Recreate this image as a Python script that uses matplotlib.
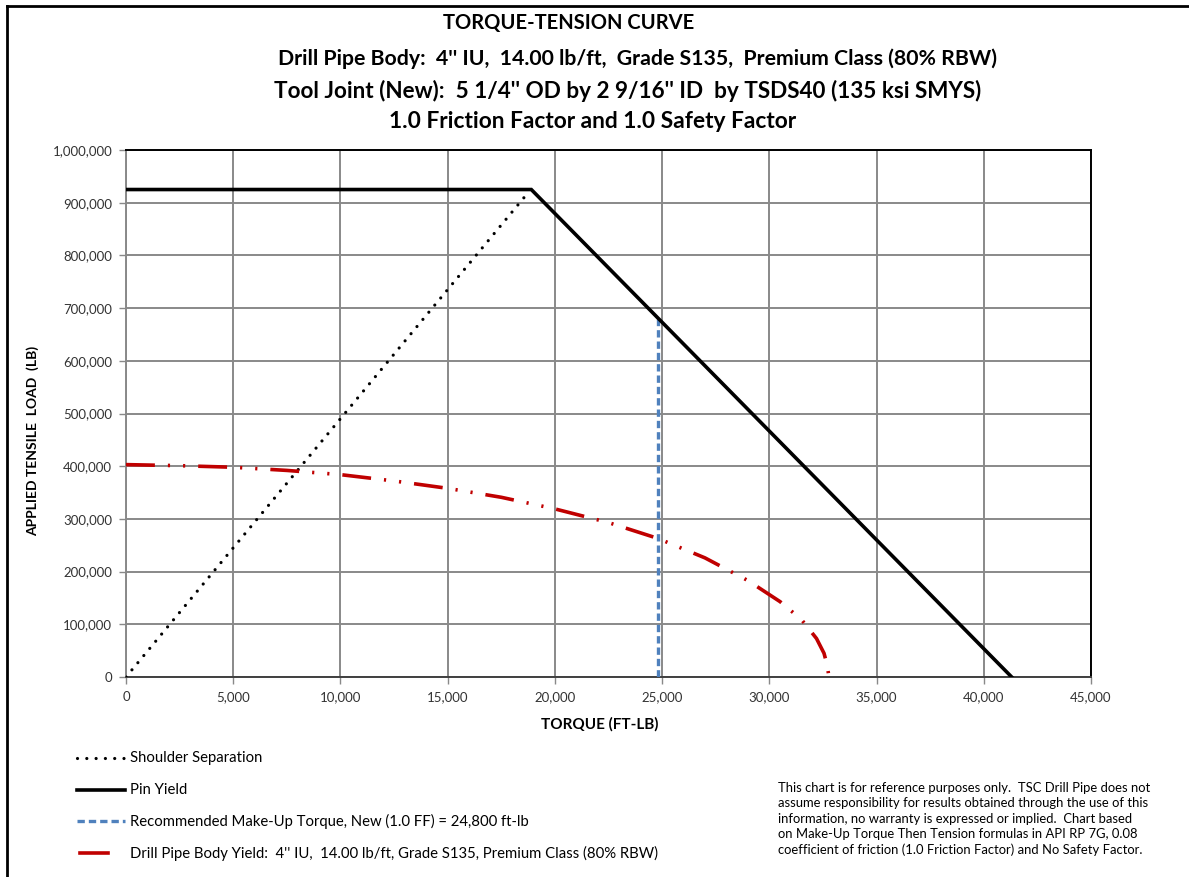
import matplotlib
matplotlib.use("Agg")
import matplotlib.pyplot as plt
from matplotlib.lines import Line2D
from matplotlib.ticker import FuncFormatter

plt.rcParams['font.family'] = ['Lato', 'DejaVu Sans']

# Data (torque in ft-lb, tension in lb)
shoulder_torque = [0, 18730]
shoulder_load = [0, 918000]

pin_torque = [0, 18900, 41300]
pin_load = [925000, 925000, 0]

makeup_torque = [24800, 24800]
makeup_load = [0, 680000]

body_torque = [0, 2500, 5000, 7500, 10000, 12500, 15000, 17500, 20000, 22500,
               24800, 27000, 29000, 30500, 31500, 32200, 32550, 32700, 32780]
body_load = [403000, 401000, 398000, 392000, 384000, 372000, 358000, 341000,
             319000, 293000, 263000, 226000, 183000, 143000, 109000, 73000,
             45000, 22000, 0]

title_lines = ["TORQUE-TENSION CURVE",
               "Drill Pipe Body:  4'' IU,  14.00 lb/ft,  Grade S135,  Premium Class (80% RBW)",
               "Tool Joint (New):  5 1/4'' OD by 2 9/16'' ID  by TSDS40 (135 ksi SMYS)",
               "1.0 Friction Factor and 1.0 Safety Factor"]

legend_labels = ["Shoulder Separation",
                 "Pin Yield",
                 "Recommended Make-Up Torque, New (1.0 FF) = 24,800 ft-lb",
                 "Drill Pipe Body Yield:  4'' IU,  14.00 lb/ft, Grade S135, Premium Class (80% RBW)"]

disclaimer = ("This chart is for reference purposes only.  TSC Drill Pipe does not\n"
              "assume responsibility for results obtained through the use of this\n"
              "information, no warranty is expressed or implied.  Chart based\n"
              "on Make-Up Torque Then Tension formulas in API RP 7G, 0.08\n"
              "coefficient of friction (1.0 Friction Factor) and No Safety Factor.")

W, H = 1189, 877
fig = plt.figure(figsize=(W / 100, H / 100), dpi=100)

def fx(px):
    return px / W

def fy(py):
    return 1 - py / H

ax = fig.add_axes([fx(126), fy(677), fx(1091) - fx(126), fy(150) - fy(677)])

red = '#C00000'
blue = '#4F81BD'
grid_c = '#898989'

ax.plot(shoulder_torque, shoulder_load, color='black', lw=2.3,
        linestyle=(0, (0.01, 2.9)), dash_capstyle='round', zorder=3)
ax.plot(pin_torque, pin_load, color='black', lw=2.6, zorder=4,
        solid_joinstyle='miter')
ax.plot(makeup_torque, makeup_load, color=blue, lw=2.4,
        linestyle=(0, (2.2, 1.2)), zorder=3)
ax.plot(body_torque, body_load, color=red, lw=2.6,
        linestyle=(0, (8.0, 3.6, 0.6, 3.6, 0.6, 3.6)), zorder=3)

ax.set_xlim(0, 45000)
ax.set_ylim(0, 1000000)
ax.set_xticks(range(0, 45001, 5000))
ax.set_yticks(range(0, 1000001, 100000))
fmt = FuncFormatter(lambda v, p: f"{int(v):,}")
ax.xaxis.set_major_formatter(fmt)
ax.yaxis.set_major_formatter(fmt)
ax.grid(True, color=grid_c, lw=1.4, zorder=0)
ax.set_axisbelow(True)
ax.tick_params(axis='both', labelsize=9.5, colors='#333333', length=5,
               width=1, pad=5)
ax.tick_params(axis='both', color=grid_c)
ax.spines['left'].set_color(grid_c)
ax.spines['bottom'].set_color('#404040')
ax.spines['top'].set_color('black')
ax.spines['right'].set_color('black')
for s in ax.spines.values():
    s.set_linewidth(1.4)

# titles (own centre and size per line to match the reference extents)
title_pos = [(569, 23), (637, 59), (628, 91), (593, 122)]
title_size = [14.5, 15.3, 16.2, 16.4]
for txt, (px, py), sz in zip(title_lines, title_pos, title_size):
    fig.text(fx(px), fy(py), txt, ha='center', va='center',
             fontsize=sz, fontweight='bold')

fig.text(fx(600), fy(724), "TORQUE (FT-LB)", ha='center', va='center',
         fontsize=11, fontweight='bold')
fig.text(fx(33), fy(441), "APPLIED TENSILE  LOAD  (LB)", ha='center',
         va='center', rotation=90, fontsize=10, fontweight='bold')

# legend below the plot
handles = [
    dict(color='black', lw=2.3, linestyle=(0, (0.01, 2.9)), dash_capstyle='round', x0=77, x1=125),
    dict(color='black', lw=2.6, linestyle='-', dash_capstyle='butt', x0=77, x1=125),
    dict(color=blue, lw=2.4, linestyle=(0, (2.2, 1.2)), dash_capstyle='butt', x0=77, x1=125),
    dict(color=red, lw=2.6, linestyle='-', dash_capstyle='butt', x0=80, x1=108),
]
leg_y = [758, 790, 821, 853]
for h, lab, py in zip(handles, legend_labels, leg_y):
    fig.add_artist(Line2D([fx(h['x0']), fx(h['x1'])], [fy(py), fy(py)],
                          transform=fig.transFigure, color=h['color'], lw=h['lw'],
                          linestyle=h['linestyle'], dash_capstyle=h['dash_capstyle']))
    fig.text(fx(130), fy(py), lab, ha='left', va='center', fontsize=10.7)

fig.text(fx(778), fy(782), disclaimer, ha='left', va='top', fontsize=9.4,
         linespacing=1.33)

# outer chart border
fig.add_artist(Line2D([fx(7), fx(W + 5)], [fy(6), fy(6)], transform=fig.transFigure,
                      color='black', lw=2))
fig.add_artist(Line2D([fx(7), fx(7)], [fy(6), fy(H + 5)], transform=fig.transFigure,
                      color='black', lw=2))

fig.savefig("out.png", dpi=100, facecolor='white')
